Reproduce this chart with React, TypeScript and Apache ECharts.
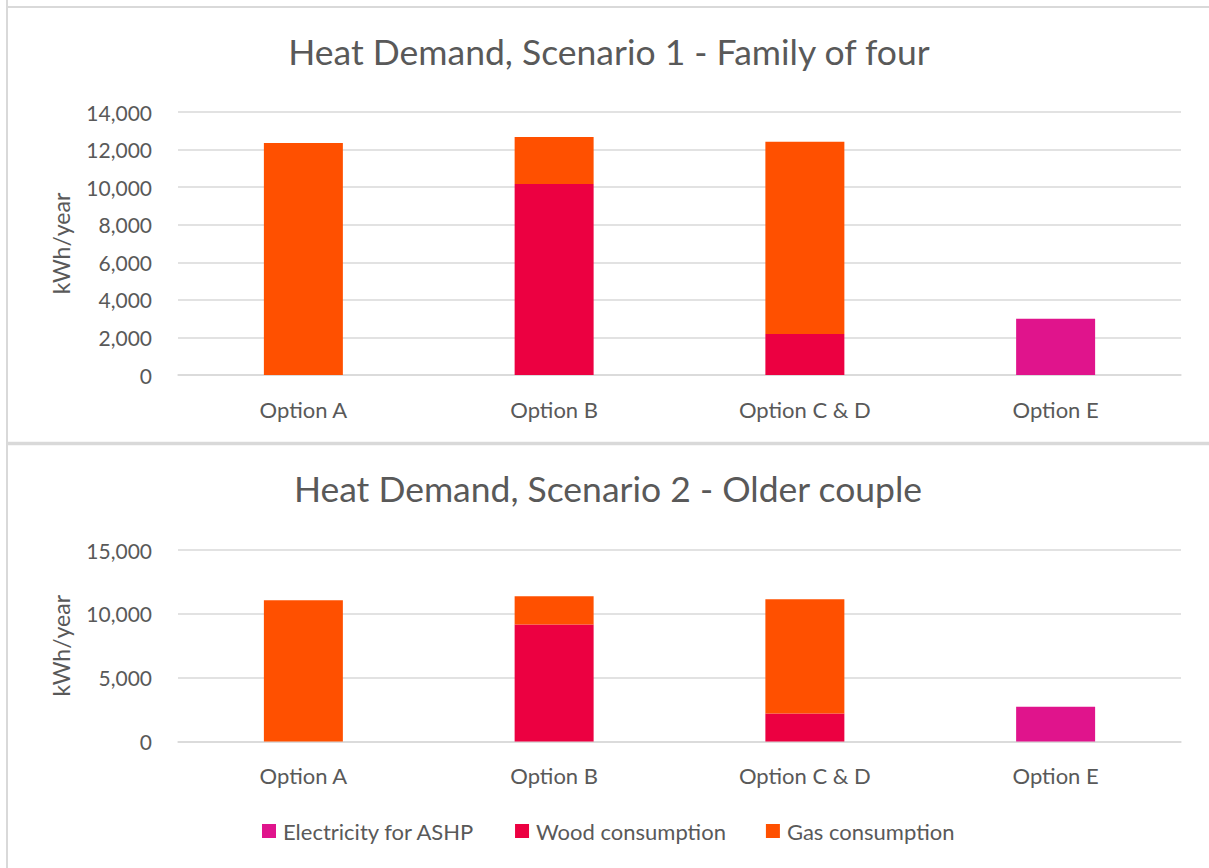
import React, { useEffect, useRef } from "react";
import * as echarts from "echarts";

const categories = ["Option A", "Option B", "Option C & D", "Option E"];
const seriesNames = ["Electricity for ASHP", "Wood consumption", "Gas consumption"];

// Scenario 1 - Family of four (kWh/year)
const s1Electricity = [0, 0, 0, 3000];
const s1Wood = [0, 10170, 2180, 0];
const s1Gas = [12350, 2500, 10240, 0];

// Scenario 2 - Older couple (kWh/year)
const s2Electricity = [0, 0, 0, 2720];
const s2Wood = [0, 9160, 2190, 0];
const s2Gas = [11060, 2220, 8950, 0];

const titles = [
  "Heat Demand, Scenario 1 - Family of four",
  "Heat Demand, Scenario 2 - Older couple",
];
const axisName = "kWh/year";

const colors = ["#E0148C", "#EC0041", "#FF5000"];
const FONT = "Lato, 'Open Sans', sans-serif";
const TEXT = "#595959";
const GRID = "#d9d9d9";

export default function App() {
  const ref = useRef<HTMLDivElement>(null);
  useEffect(() => {
    if (!ref.current) return;
    const chart = echarts.init(ref.current, undefined, { renderer: "svg" });
    const fmt = (v: number) => v.toLocaleString("en-US");
    const yAxisBase = (min: number, max: number, interval: number, gridIndex: number) => ({
      type: "value" as const,
      gridIndex,
      min,
      max,
      interval,
      name: axisName,
      nameLocation: "middle" as const,
      nameGap: 106,
      nameRotate: 90,
      nameTextStyle: { fontFamily: FONT, fontSize: 23, color: TEXT },
      axisLine: { show: false },
      axisTick: { show: false },
      axisLabel: { fontFamily: FONT, fontSize: 21, color: TEXT, margin: 26, formatter: fmt },
      splitLine: { lineStyle: { color: GRID, width: 1.5 } },
    });
    const xAxisBase = (gridIndex: number) => ({
      type: "category" as const,
      gridIndex,
      data: categories,
      axisLine: { lineStyle: { color: GRID, width: 1.5 } },
      axisTick: { show: false },
      axisLabel: { fontFamily: FONT, fontSize: 22, color: TEXT, margin: 23 },
    });
    const mk = (name: string, data: number[], idx: number, axis: number) => ({
      type: "bar" as const,
      name,
      data,
      stack: "s" + axis,
      xAxisIndex: axis,
      yAxisIndex: axis,
      barWidth: "31.5%",
      itemStyle: { color: colors[idx] },
    });
    chart.setOption({
      animation: false,
      backgroundColor: "#ffffff",
      textStyle: { fontFamily: FONT },
      title: [
        {
          text: titles[0],
          left: 604,
          top: 28,
          textAlign: "center",
          textStyle: { fontFamily: FONT, fontSize: 35.5, fontWeight: "normal", color: TEXT },
        },
        {
          text: titles[1],
          left: 603,
          top: 465,
          textAlign: "center",
          textStyle: { fontFamily: FONT, fontSize: 35.5, fontWeight: "normal", color: TEXT },
        },
      ],
      legend: {
        data: seriesNames,
        left: 257,
        top: 815,
        itemWidth: 14,
        itemHeight: 14,
        itemGap: 40,
        icon: "rect",
        textStyle: { fontFamily: FONT, fontSize: 22, color: TEXT, padding: [0, 0, 0, 2] },
      },
      grid: [
        { left: 178, right: 28, top: 112, bottom: 493 },
        { left: 178, right: 28, top: 550, bottom: 126.5 },
      ],
      xAxis: [xAxisBase(0), xAxisBase(1)],
      yAxis: [yAxisBase(0, 14000, 2000, 0), yAxisBase(0, 15000, 5000, 1)],
      series: [
        mk(seriesNames[0], s1Electricity, 0, 0),
        mk(seriesNames[1], s1Wood, 1, 0),
        mk(seriesNames[2], s1Gas, 2, 0),
        mk(seriesNames[0], s2Electricity, 0, 1),
        mk(seriesNames[1], s2Wood, 1, 1),
        mk(seriesNames[2], s2Gas, 2, 1),
      ],
      graphic: [
        {
          type: "line",
          shape: { x1: 7, y1: 0, x2: 7, y2: 868 },
          style: { stroke: GRID, lineWidth: 2 },
          silent: true,
        },
        {
          type: "line",
          shape: { x1: 6, y1: 7, x2: 1209, y2: 7 },
          style: { stroke: GRID, lineWidth: 2 },
          silent: true,
        },
        {
          type: "line",
          shape: { x1: 6, y1: 443.5, x2: 1209, y2: 443.5 },
          style: { stroke: GRID, lineWidth: 3.5 },
          silent: true,
        },
      ],
    });
    return () => chart.dispose();
  }, []);
  return (
    <div
      ref={ref}
      style={{ position: "absolute", left: 0, top: 0, width: 1209, height: 868, background: "#fff" }}
    />
  );
}
